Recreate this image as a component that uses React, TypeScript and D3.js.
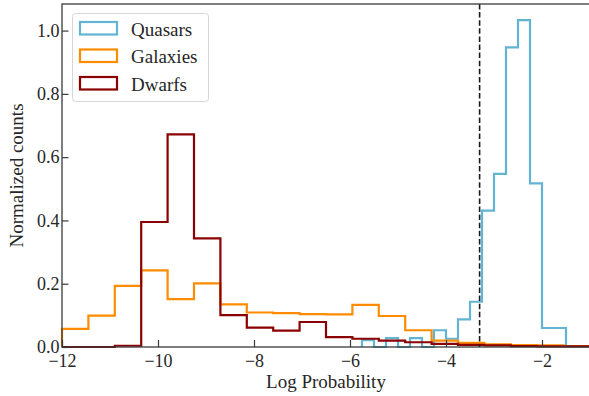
import { useEffect, useRef } from 'react';
import * as d3 from 'd3';

// bins for galaxies / dwarfs (20 bins between -12 and -1)
const wideEdges = [-12, -11.45, -10.9, -10.35, -9.8, -9.25, -8.7, -8.15, -7.6, -7.05, -6.5,
  -5.95, -5.4, -4.85, -4.3, -3.75, -3.2, -2.65, -2.1, -1.55, -1];
const galaxyValues = [0.057, 0.099, 0.193, 0.242, 0.151, 0.201, 0.135, 0.109, 0.107, 0.104,
  0.103, 0.133, 0.098, 0.053, 0.02, 0.013, 0.008, 0.006, 0.005, 0.003];
const dwarfValues = [0, 0, 0.004, 0.395, 0.672, 0.343, 0.101, 0.061, 0.052, 0.079,
  0.031, 0.026, 0.02, 0.015, 0.01, 0.007, 0.005, 0.003, 0.002, 0.002];

// quasars use narrower bins (0.25); only the non-empty part is listed
const quasarEdges = [-5.75, -5.5, -5.25, -5, -4.75, -4.5, -4.25, -4, -3.75, -3.5, -3.25,
  -3, -2.75, -2.5, -2.25, -2, -1.75, -1.5];
const quasarValues = [0.022, 0, 0.028, 0, 0.028, 0, 0.053, 0.026, 0.087, 0.143, 0.431,
  0.547, 0.947, 1.033, 0.517, 0.06, 0.06];

const threshold = -3.3;
const xTicks = [-12, -10, -8, -6, -4, -2];
const yTicks = [0, 0.2, 0.4, 0.6, 0.8, 1.0];

const seriesNames = ['Quasars', 'Galaxies', 'Dwarfs'];
const seriesColors = ['#62b4d3', '#ff8c00', '#8b0000'];

const FONT = '"Liberation Serif", "DejaVu Serif", serif';

const App = () => {
  const svgRef = useRef<SVGSVGElement>(null);

  useEffect(() => {
    const W = 589;
    const H = 396;
    const margin = { top: 4, right: -1, bottom: 49, left: 62 };
    const width = W - margin.left - margin.right;
    const height = H - margin.top - margin.bottom;

    const svgEl = d3.select(svgRef.current);
    svgEl.selectAll('*').remove();
    svgEl.attr('width', W).attr('height', H);

    const svg = svgEl.append('g')
      .attr('transform', `translate(${margin.left},${margin.top})`);

    const x = d3.scaleLinear().domain([-12, -1]).range([0, width]);
    const y = d3.scaleLinear().domain([0, 1.084]).range([height, 0]);

    // step outline like matplotlib histtype='step'
    const stepPoints = (edges: number[], vals: number[]) => {
      const pts: [number, number][] = [[edges[0], 0]];
      vals.forEach((v, i) => {
        pts.push([edges[i], v]);
        pts.push([edges[i + 1], v]);
      });
      pts.push([edges[edges.length - 1], 0]);
      return pts;
    };

    const line = d3.line<[number, number]>()
      .x(d => x(d[0]))
      .y(d => y(d[1]));

    const hists = [
      stepPoints(quasarEdges, quasarValues),
      stepPoints(wideEdges, galaxyValues),
      stepPoints(wideEdges, dwarfValues),
    ];

    hists.forEach((pts, i) => {
      svg.append('path')
        .datum(pts)
        .attr('fill', 'none')
        .attr('stroke', seriesColors[i])
        .attr('stroke-width', 2.2)
        .attr('stroke-linejoin', 'miter')
        .attr('d', line);
    });

    // threshold line
    svg.append('line')
      .attr('x1', x(threshold)).attr('x2', x(threshold))
      .attr('y1', 0).attr('y2', height)
      .attr('stroke', '#1a1a1a')
      .attr('stroke-width', 1.6)
      .attr('stroke-dasharray', '5.5,2.6');

    // axes (ticks pointing in)
    const xAxis = svg.append('g')
      .attr('transform', `translate(0,${height})`)
      .call(d3.axisBottom(x).tickValues(xTicks).tickSize(-7).tickPadding(7.5)
        .tickFormat(d => d3.format('d')(d as number).replace('-', '\u2212')));
    const yAxis = svg.append('g')
      .call(d3.axisLeft(y).tickValues(yTicks).tickSize(-6.5).tickPadding(2.5)
        .tickFormat(d3.format('.1f')));

    [xAxis, yAxis].forEach(ax => {
      ax.select('.domain').remove();
      ax.selectAll('line').attr('stroke', '#3a3a3a').attr('stroke-width', 1.2);
      ax.selectAll('text')
        .attr('fill', '#262626')
        .style('font-family', FONT)
        .style('font-size', '18px');
    });

    // spines
    svg.append('rect')
      .attr('x', 0).attr('y', 0)
      .attr('width', width).attr('height', height)
      .attr('fill', 'none')
      .attr('stroke', '#3a3a3a')
      .attr('stroke-width', 1.3);

    // labels
    svg.append('text')
      .attr('x', width / 2)
      .attr('y', height + 41)
      .attr('text-anchor', 'middle')
      .attr('fill', '#262626')
      .style('font-family', FONT)
      .style('font-size', '19px')
      .text('Log Probability');

    svg.append('text')
      .attr('transform', `translate(${23 - margin.left},${height / 2}) rotate(-90)`)
      .attr('text-anchor', 'middle')
      .attr('fill', '#262626')
      .style('font-family', FONT)
      .style('font-size', '19px')
      .text('Normalized counts');

    // legend
    const lg = svgEl.append('g');
    lg.append('rect')
      .attr('x', 72.5).attr('y', 13.5)
      .attr('width', 136).attr('height', 88)
      .attr('rx', 3)
      .attr('fill', 'white')
      .attr('fill-opacity', 0.8)
      .attr('stroke', '#d6d6d6')
      .attr('stroke-width', 1);

    seriesNames.forEach((name, i) => {
      const rowY = 22 + i * 27.5;
      lg.append('rect')
        .attr('x', 80).attr('y', rowY)
        .attr('width', 37).attr('height', 12.5)
        .attr('fill', 'none')
        .attr('stroke', seriesColors[i])
        .attr('stroke-width', 2.2);
      lg.append('text')
        .attr('x', 131)
        .attr('y', rowY + 13.5)
        .attr('fill', '#262626')
        .style('font-family', FONT)
        .style('font-size', '19px')
        .text(name);
    });
  }, []);

  return <svg ref={svgRef} style={{ position: 'absolute', left: 0, top: 0, display: 'block' }}></svg>;
};

export default App;
